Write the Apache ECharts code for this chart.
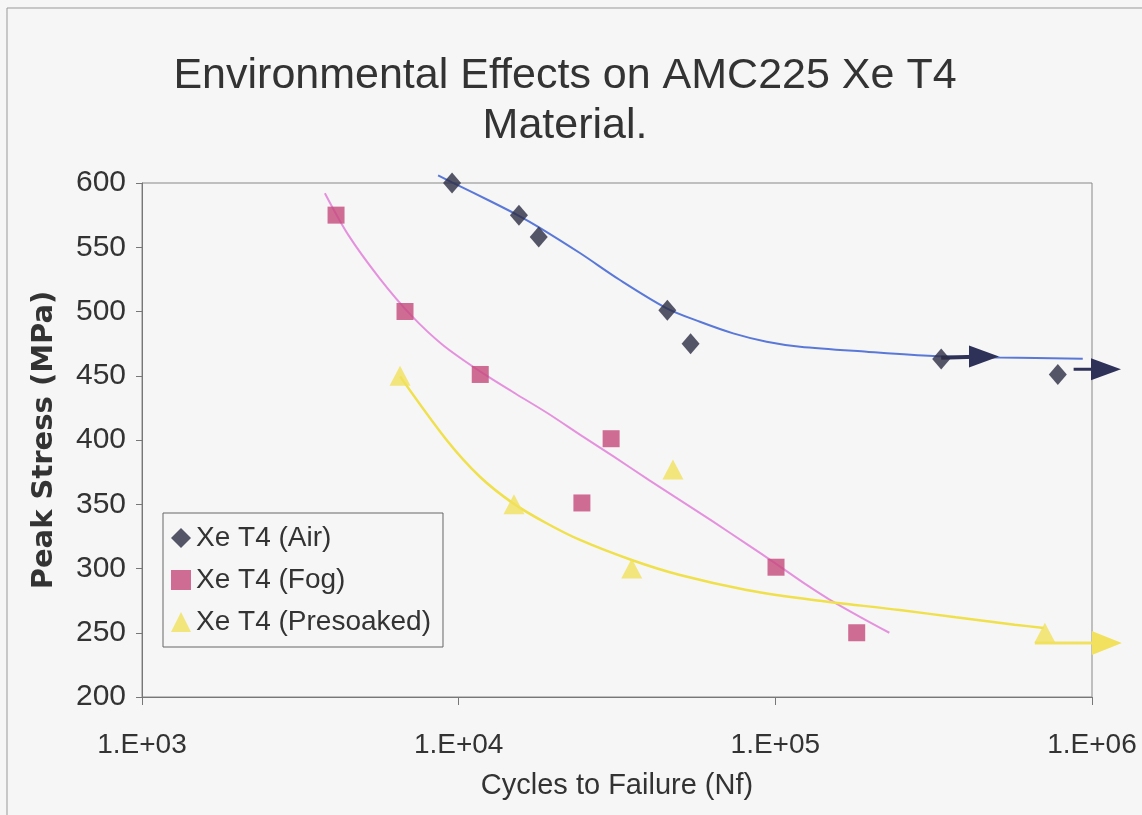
<!DOCTYPE html>
<html>
<head>
<meta charset="utf-8">
<script src="https://cdn.jsdelivr.net/npm/echarts@6/dist/echarts.min.js"></script>
<style>
html,body{margin:0;padding:0;background:#f6f6f6;}
#c{width:1142px;height:815px;}
</style>
</head>
<body>
<div id="c"></div>
<script>
// ---- data ----
var xTickLabels = ['1.E+03', '1.E+04', '1.E+05', '1.E+06'];
var seriesNames = ['Xe T4 (Air)', 'Xe T4 (Fog)', 'Xe T4 (Presoaked)'];

// measured points [cycles, peak stress MPa]
var airPoints = [[9530, 600], [15500, 575], [17900, 558], [45600, 501], [54000, 475], [334000, 463], [780000, 451]];
var fogPoints = [[4100, 575], [6770, 500], [11700, 451], [30300, 401], [24500, 351], [100500, 301], [180700, 250]];
var presoakedPoints = [[6530, 450], [14950, 350], [35200, 300], [47500, 377], [710000, 250]];

// trend curves
var airCurve = [[8610, 606], [9530, 600.5], [12560, 586], [15500, 574.5], [17940, 565.5], [24150, 545.5], [32300, 524.5], [45400, 502.5], [57800, 492], [73600, 483], [93900, 476.5], [119700, 472.6], [194300, 468.7], [314600, 465.4], [511300, 464.2], [935000, 463.2]];
var fogCurve = [[3780, 592], [4470, 560], [5620, 526], [7080, 497], [8910, 474], [11750, 453], [15140, 436], [19050, 421], [24550, 403], [30900, 387], [39810, 369], [50120, 353], [63100, 337], [81280, 319], [100000, 304], [125900, 287], [147900, 276], [186200, 262], [229100, 250]];
var presoakedCurve = [[6530, 449.5], [9160, 400], [11670, 371.4], [14860, 350.7], [18950, 335.2], [24160, 322.2], [35170, 306.6], [50000, 294.9], [81100, 283.3], [131800, 275.5], [247000, 267.7], [371500, 262], [570200, 256.3], [704700, 253.7]];

// run-out arrows
var airRunout1 = [[334000, 464], [456000, 465]];
var airRunout2 = [[875000, 455], [1107000, 455]];
var presoakedRunout = [[660000, 242], [1114000, 242]];

// ---- chart ----
var FONT = 'Liberation Sans';
var colAir = '#2d2d45', colFog = '#c64a7c', colPre = '#f1e15e';
var curveAir = '#5a78d8', curveFog = '#e592de', curvePre = '#efe04c';

function arrowData(pts) {
  return pts.map(function (p, i) {
    if (i === pts.length - 1) return { value: p, symbol: 'triangle', symbolRotate: -90 };
    return { value: p, symbol: 'none' };
  });
}

var chart = echarts.init(document.getElementById('c'));
chart.setOption({
  backgroundColor: '#f6f6f6',
  animation: false,
  title: {
    text: 'Environmental Effects on AMC225 Xe T4\nMaterial.',
    left: 560, top: 46, textAlign: 'center',
    textStyle: { fontFamily: FONT, fontSize: 43, fontWeight: 'normal', color: '#333', lineHeight: 50 }
  },
  graphic: [{ type: 'rect', silent: true, shape: { x: 7, y: 8, width: 1300, height: 1000 }, style: { fill: 'none', stroke: '#999', lineWidth: 1 } }],
  legend: {
    data: seriesNames,
    orient: 'vertical', left: 163, top: 513,
    itemWidth: 20, itemHeight: 20, itemGap: 14,
    padding: [11, 12, 11, 8],
    borderColor: '#666', borderWidth: 1,
    textStyle: { fontFamily: FONT, fontSize: 28, color: '#333' }
  },
  grid: { left: 142, top: 183, right: 50, bottom: 118, show: true, borderColor: '#888', borderWidth: 1, backgroundColor: 'transparent' },
  xAxis: {
    type: 'log', logBase: 10, min: 1000, max: 1000000,
    name: 'Cycles to Failure (Nf)', nameLocation: 'middle', nameGap: 74,
    nameTextStyle: { fontFamily: FONT, fontSize: 29, color: '#333' },
    axisLine: { lineStyle: { color: '#777' } },
    axisTick: { show: true, length: 8, lineStyle: { color: '#777' } },
    minorTick: { show: false },
    splitLine: { show: false },
    axisLabel: {
      margin: 34, fontFamily: FONT, fontSize: 28, color: '#333',
      formatter: function (v) { return xTickLabels[Math.round(Math.log10(v)) - 3]; }
    }
  },
  yAxis: {
    type: 'value', min: 200, max: 600, interval: 50,
    name: 'Peak Stress (MPa)', nameLocation: 'middle', nameGap: 83, nameRotate: 90,
    nameTextStyle: { fontFamily: 'DejaVu Sans', fontWeight: 'bold', fontSize: 29, color: '#333' },
    axisLine: { show: true, lineStyle: { color: '#777' } },
    axisTick: { show: true, length: 6, lineStyle: { color: '#777' } },
    splitLine: { show: false },
    axisLabel: { margin: 16, fontFamily: FONT, fontSize: 30, color: '#333' }
  },
  series: [
    { name: 'airTrend', type: 'line', data: airCurve, smooth: 0.3, symbol: 'none', clip: false, lineStyle: { color: curveAir, width: 2 }, z: 2 },
    { name: 'fogTrend', type: 'line', data: fogCurve, smooth: 0.3, symbol: 'none', clip: false, lineStyle: { color: curveFog, width: 2 }, z: 2 },
    { name: 'preTrend', type: 'line', data: presoakedCurve, smooth: 0.3, symbol: 'none', clip: false, lineStyle: { color: curvePre, width: 2.5 }, z: 2 },
    { name: 'airRun1', type: 'line', data: arrowData(airRunout1), clip: false, symbolSize: [22, 30], itemStyle: { color: '#2f3258' }, lineStyle: { color: '#2f3258', width: 4 }, z: 3 },
    { name: 'airRun2', type: 'line', data: arrowData(airRunout2), clip: false, symbolSize: [22, 30], itemStyle: { color: '#2f3258' }, lineStyle: { color: '#2f3258', width: 3 }, z: 3 },
    { name: 'preRun', type: 'line', data: arrowData(presoakedRunout), clip: false, symbolSize: [24, 30], itemStyle: { color: colPre }, lineStyle: { color: colPre, width: 3 }, z: 3 },
    { name: seriesNames[0], type: 'scatter', data: airPoints, symbol: 'diamond', symbolSize: [18, 21], itemStyle: { color: colAir }, z: 5 },
    { name: seriesNames[1], type: 'scatter', data: fogPoints, symbol: 'rect', symbolSize: 17, itemStyle: { color: colFog }, z: 5 },
    { name: seriesNames[2], type: 'scatter', data: presoakedPoints, symbol: 'triangle', symbolSize: [21, 20], itemStyle: { color: colPre }, z: 5 }
  ]
});
</script>
</body>
</html>
